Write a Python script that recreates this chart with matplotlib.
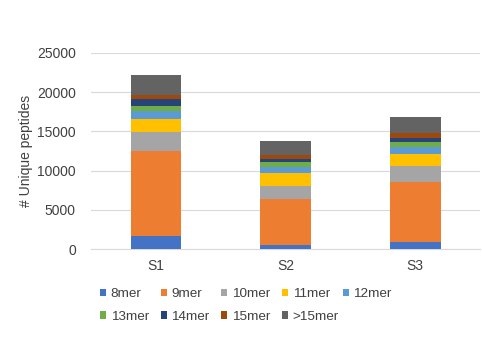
import matplotlib
matplotlib.use("Agg")
import matplotlib.pyplot as plt
import numpy as np

plt.rcParams['font.family'] = ['Liberation Sans', 'DejaVu Sans']

samples = ["S1", "S2", "S3"]
series = ["8mer", "9mer", "10mer", "11mer", "12mer", "13mer", "14mer", "15mer", ">15mer"]
v_8mer = [1700, 550, 930]
v_9mer = [10850, 5800, 7680]
v_10mer = [2350, 1700, 1990]
v_11mer = [1650, 1650, 1490]
v_12mer = [1000, 820, 930]
v_13mer = [720, 590, 630]
v_14mer = [800, 430, 560]
v_15mer = [600, 420, 640]
v_gt15 = [2500, 1780, 1910]
values = [v_8mer, v_9mer, v_10mer, v_11mer, v_12mer, v_13mer, v_14mer, v_15mer, v_gt15]
colors = ["#4472C4", "#ED7D31", "#A5A5A5", "#FFC000", "#5B9BD5",
          "#70AD47", "#264478", "#9E480E", "#636363"]
yticks = [0, 5000, 10000, 15000, 20000, 25000]

W, H = 482, 356
fig = plt.figure(figsize=(W / 100, H / 100), dpi=100)
ax = fig.add_axes([0.189, 0.2997, 0.807, 0.5523])

x = np.arange(len(samples))
bottom = np.zeros(len(samples))
handles = []
for name, vals, c in zip(series, values, colors):
    h = ax.bar(x, vals, width=0.39, bottom=bottom, color=c, label=name, zorder=3)
    handles.append(h)
    bottom += np.array(vals)

ax.set_xlim(-0.5, 2.5)
ax.set_ylim(0, 25000)
ax.set_yticks(yticks)
ax.set_xticks(x)
ax.set_xticklabels(samples)
ax.yaxis.grid(True, color="#D9D9D9", linewidth=0.8, zorder=0)
for s in ["top", "right", "left"]:
    ax.spines[s].set_visible(False)
ax.spines["bottom"].set_color("#D9D9D9")
ax.spines["bottom"].set_linewidth(0.8)
ax.tick_params(axis="both", length=0, labelsize=10, colors="#404040")
ax.tick_params(axis="y", pad=11)
ax.tick_params(axis="x", pad=7)
ax.set_ylabel("# Unique peptides", fontsize=10, color="#404040", labelpad=3)

# legend: uniform grid, 5 per row
col_step = 60.7
x0 = 99.8
row_y = [294.0, 316.7]
for i, (h, name) in enumerate(zip(handles, series)):
    r, c = divmod(i, 5)
    leg = fig.legend([h], [name], loc="center left",
                     bbox_to_anchor=((x0 + c * col_step) / W, 1 - row_y[r] / H),
                     bbox_transform=fig.transFigure, frameon=False, fontsize=9.7,
                     handlelength=0.45, handleheight=0.45, handletextpad=0.35,
                     borderpad=0, borderaxespad=0, labelcolor="#404040")

fig.savefig("out.png", dpi=100)
